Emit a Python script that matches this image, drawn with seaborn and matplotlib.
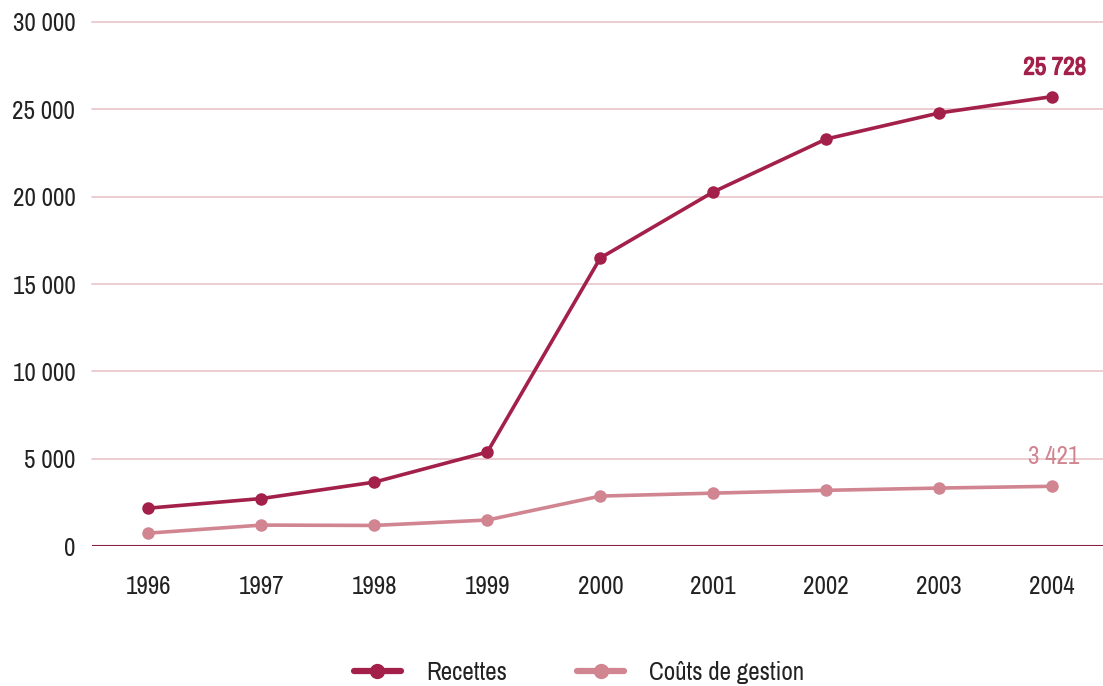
import pandas as pd
import matplotlib
matplotlib.use("Agg")
import matplotlib.pyplot as plt
import matplotlib.patheffects as pe
from matplotlib import font_manager
import seaborn as sns

# Data
years = ["1996", "1997", "1998", "1999", "2000", "2001", "2002", "2003", "2004"]
recettes = [2170, 2720, 3660, 5380, 16490, 20270, 23300, 24790, 25728]
couts = [740, 1200, 1180, 1490, 2860, 3030, 3190, 3320, 3421]

RED = "#A3204A"
PINK = "#D08591"
GRID = "#E8C3C9"

df = pd.DataFrame({
    "year": years * 2,
    "value": recettes + couts,
    "serie": ["Recettes"] * len(years) + ["Coûts de gestion"] * len(years),
})

# look for a narrow face if one is installed
names = sorted({f.name for f in font_manager.fontManager.ttflist})
narrow = [n for n in names if "Condensed" in n or "Narrow" in n]

sns.set_style("white")
plt.rcParams["font.family"] = narrow[:1] + ["Roboto", "DejaVu Sans"]
fs = 18 if narrow else 15

fig = plt.figure(figsize=(11.03, 6.86), dpi=100)
ax = fig.add_axes([0.0834, 0.204, 0.9166, 0.764])

sns.lineplot(
    data=df, x="year", y="value", hue="serie",
    palette={"Recettes": RED, "Coûts de gestion": PINK},
    marker="o", markersize=9, markeredgewidth=0, linewidth=2.6,
    sort=False, ax=ax, legend=False,
)

ax.set_xlim(-0.5, 8.45)
ax.set_ylim(0, 30000)
ax.set_yticks(range(0, 30001, 5000))
ax.set_yticklabels([f"{v:,}".replace(",", " ") for v in range(0, 30001, 5000)])
for v in range(5000, 30001, 5000):
    ax.axhline(v, color=GRID, linewidth=1.2, zorder=0, clip_on=False)
ax.axhline(0, color="#8A1E45", linewidth=1.5, zorder=1)

for s in ax.spines.values():
    s.set_visible(False)
ax.set_xlabel("")
ax.set_ylabel("")
ax.tick_params(axis="both", length=0, labelsize=fs, colors="#222222")
ax.tick_params(axis="x", pad=21)
ax.tick_params(axis="y", pad=12)

ax.annotate("25 728", (8, recettes[-1]), xytext=(2, 13), textcoords="offset points",
            ha="center", va="bottom", fontsize=fs, fontweight="bold", color=RED,
            path_effects=[pe.withStroke(linewidth=0.9, foreground=RED)])
ax.annotate("3 421", (8, couts[-1]), xytext=(1, 13), textcoords="offset points",
            ha="center", va="bottom", fontsize=fs, color=PINK)

handles = [
    plt.Line2D([], [], color=RED, marker="o", markersize=10, linewidth=4.5),
    plt.Line2D([], [], color=PINK, marker="o", markersize=10, linewidth=4.5),
]
fig.legend(handles, ["Recettes", "Coûts de gestion"], loc="center",
           bbox_to_anchor=(0.525, 0.02), ncol=2, frameon=False, fontsize=fs,
           handlelength=1.9, columnspacing=2.8, handletextpad=1.0,
           labelcolor="#222222")

fig.savefig("out.png", dpi=100)
